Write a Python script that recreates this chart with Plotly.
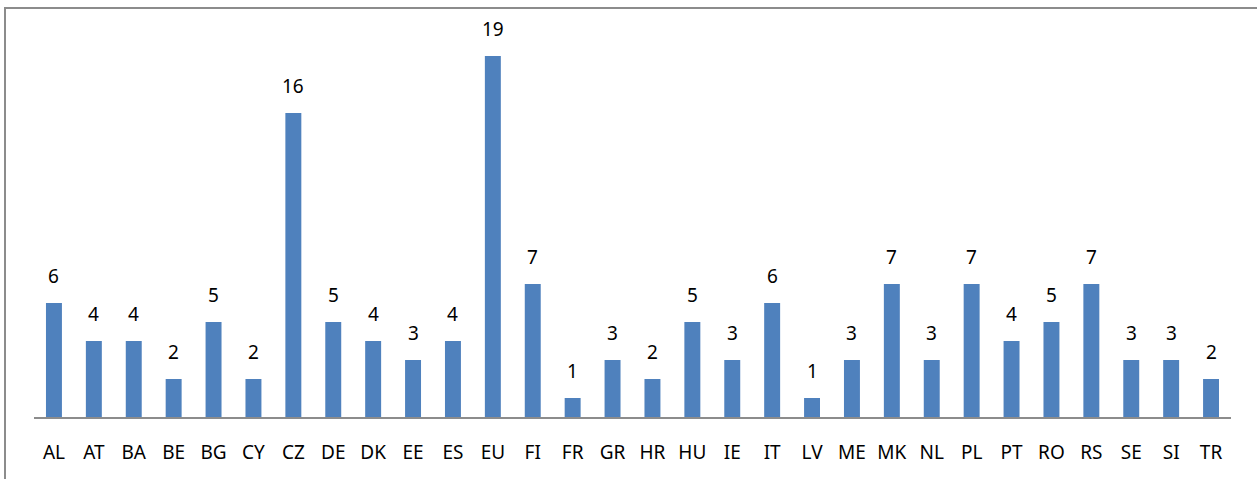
import plotly.graph_objects as go

categories = ["AL", "AT", "BA", "BE", "BG", "CY", "CZ", "DE", "DK", "EE", "ES", "EU", "FI", "FR",
              "GR", "HR", "HU", "IE", "IT", "LV", "ME", "MK", "NL", "PL", "PT", "RO", "RS", "SE", "SI", "TR"]
values = [6, 4, 4, 2, 5, 2, 16, 5, 4, 3, 4, 19, 7, 1,
          3, 2, 5, 3, 6, 1, 3, 7, 3, 7, 4, 5, 7, 3, 3, 2]

FONT = "Noto Sans"
W, H = 1257, 479
L, R, T, B = 34, 26, 37, 62

fig = go.Figure()
fig.add_trace(go.Bar(x=categories, y=values, marker=dict(color="#4F81BD", line=dict(width=0)),
                     hoverinfo="x+y"))

for c, v in zip(categories, values):
    fig.add_annotation(x=c, y=v, text=str(v), showarrow=False, yanchor="bottom", yshift=12,
                       font=dict(family=FONT, size=19, color="#000000"))

pw = W - L - R
ph = H - T - B
fig.add_shape(type="rect", xref="paper", yref="paper",
              x0=(5 - L) / pw, x1=(W + 10 - L) / pw,
              y0=-(B + 10) / ph, y1=(H - B - 8) / ph,
              line=dict(color="#8C8C8C", width=2), fillcolor="rgba(0,0,0,0)", layer="below")

fig.update_layout(
    width=W, height=H,
    margin=dict(l=L, r=R, t=T, b=B, pad=0),
    paper_bgcolor="white", plot_bgcolor="white",
    bargap=0.6, showlegend=False,
    font=dict(family=FONT, size=19, color="#000000"),
    xaxis=dict(showline=True, linecolor="#8C8C8C", linewidth=2, ticks="", showgrid=False,
               tickfont=dict(family=FONT, size=19, color="#000000"), ticklabelstandoff=17),
    yaxis=dict(range=[0, 20], visible=False, showgrid=False, zeroline=False),
)

fig.write_html("out.html", config={"displayModeBar": False},
               post_script="document.body.style.margin='0';document.body.style.overflow='hidden';")
